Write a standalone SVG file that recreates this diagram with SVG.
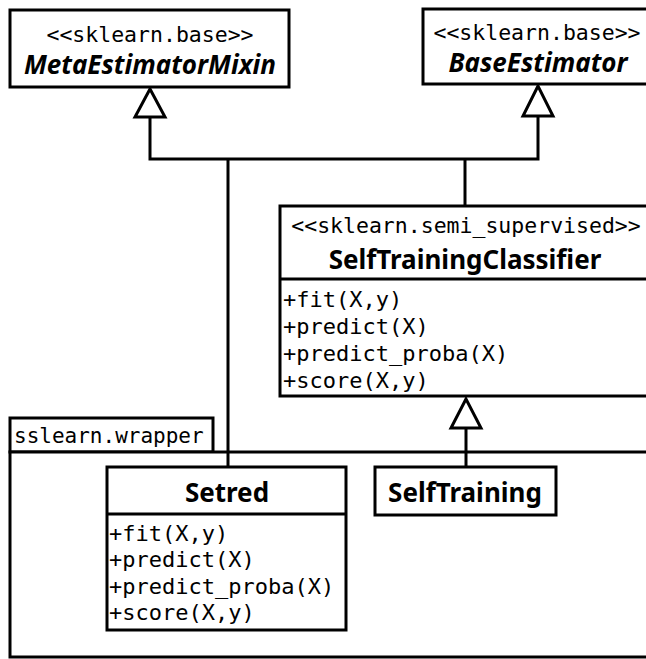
<svg xmlns="http://www.w3.org/2000/svg" width="646" height="659" viewBox="0 0 646 659">
  <style>
    .box { fill: #fff; stroke: #000; stroke-width: 3; }
    .line { fill: none; stroke: #000; stroke-width: 3; }
    .head { fill: #fff; stroke: #000; stroke-width: 3; stroke-linejoin: miter; }
    .mono { font-family: "DejaVu Sans Mono", "Liberation Mono", monospace; font-size: 22px; fill: #000; }
    .stereo { font-size: 21.5px; text-anchor: middle; }
    .title { font-family: "Noto Sans", "Open Sans", sans-serif; font-size: 26px; font-weight: bold; fill: #000; text-anchor: middle; }
    .abstract { font-style: italic; }
  </style>
  <rect width="646" height="659" fill="#fff"/>

  <!-- package sslearn.wrapper -->
  <g id="pkg-sslearn-wrapper">
    <rect class="box" x="10" y="418" width="203" height="34"/>
    <rect class="box" x="10" y="452" width="645" height="205"/>
    <text class="mono" x="14" y="443" style="font-size:21px">sslearn.wrapper</text>
  </g>

  <!-- generalization connectors -->
  <g id="connectors">
    <path class="line" d="M150,117 V159 H538 V116"/>
    <path class="line" d="M228,159 V467"/>
    <path class="line" d="M465,159 V206"/>
    <path class="line" d="M466,428 V467"/>
    <polygon class="head" points="150,89 135,117 165,117"/>
    <polygon class="head" points="538,86 523,116 553,116"/>
    <polygon class="head" points="466,399 451,428 481,428"/>
  </g>

  <g id="MetaEstimatorMixin">
    <rect class="box" x="10" y="10" width="279" height="77"/>
    <text class="mono stereo" x="150" y="42">&lt;&lt;sklearn.base&gt;&gt;</text>
    <text class="title abstract" x="150" y="74">MetaEstimatorMixin</text>
  </g>

  <g id="BaseEstimator">
    <rect class="box" x="423" y="9" width="230" height="75"/>
    <text class="mono stereo" x="537" y="40">&lt;&lt;sklearn.base&gt;&gt;</text>
    <text class="title abstract" x="538" y="72">BaseEstimator</text>
  </g>

  <g id="SelfTrainingClassifier">
    <rect class="box" x="280" y="206" width="373" height="190"/>
    <line class="line" x1="280" y1="279" x2="653" y2="279"/>
    <text class="mono stereo" x="466" y="233">&lt;&lt;sklearn.semi_supervised&gt;&gt;</text>
    <text class="title" x="465" y="269">SelfTrainingClassifier</text>
    <text class="mono" x="283" y="307">+fit(X,y)</text>
    <text class="mono" x="283" y="334">+predict(X)</text>
    <text class="mono" x="283" y="361">+predict_proba(X)</text>
    <text class="mono" x="283" y="388">+score(X,y)</text>
  </g>

  <g id="Setred">
    <rect class="box" x="107" y="467" width="239" height="163"/>
    <line class="line" x1="107" y1="514" x2="346" y2="514"/>
    <text class="title" x="227" y="502">Setred</text>
    <text class="mono" x="109" y="541">+fit(X,y)</text>
    <text class="mono" x="109" y="567">+predict(X)</text>
    <text class="mono" x="109" y="594">+predict_proba(X)</text>
    <text class="mono" x="109" y="620">+score(X,y)</text>
  </g>

  <g id="SelfTraining">
    <rect class="box" x="375" y="467" width="181" height="48"/>
    <text class="title" x="465" y="502">SelfTraining</text>
  </g>
</svg>
